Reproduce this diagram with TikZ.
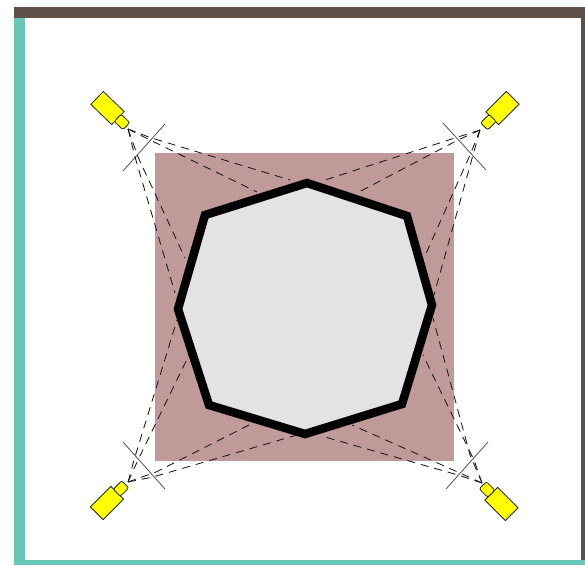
\documentclass[tikz,border=0pt]{standalone}
\usetikzlibrary{positioning}
\definecolor{wallbrown}{HTML}{61504A}
\definecolor{wallteal}{HTML}{66C6B8}
\definecolor{covered}{HTML}{C09A98}
\definecolor{obstacle}{HTML}{E3E3E3}
\definecolor{camyellow}{HTML}{FFFF00}

\begin{document}
\begin{tikzpicture}[
  x=1pt,
  y=-1pt,
  wall/.style={draw=none},
  camera/.style={
    draw=black!85,
    line width=0.8pt,
    fill=camyellow,
    inner sep=0pt,
    minimum width=29pt,
    minimum height=18pt
  },
  lens/.style={
    draw=black!85,
    line width=0.8pt,
    fill=camyellow,
    rounded corners=2pt,
    inner sep=0pt,
    minimum width=12pt,
    minimum height=10pt
  },
  ray/.style={draw=black!90, line width=0.85pt, dash pattern=on 8pt off 6pt},
  tick/.style={draw=black!65, line width=0.85pt},
  hull/.style={draw=black, line width=8.5pt, fill=obstacle, miter limit=10}
]
\useasboundingbox (0,0) rectangle (585,565);

% Walls of the room.
\fill[wall, wallbrown] (14,7) rectangle (585,18);
\fill[wall, wallbrown] (581,18) rectangle (585,560);
\fill[wall, wallteal] (14,18) rectangle (25,565);
\fill[wall, wallteal] (25,560) rectangle (585,565);

% Covered area.
\fill[covered] (155,153) rectangle (454,461);

% Cameras in the four corners.
\node[camera, rotate=-44] (camNW) at (107.5,108) {};
\node[lens, rotate=-44] (lensNW) at (122,122) {};
\node[camera, rotate=45] (camNE) at (502.5,108) {};
\node[lens, rotate=45] (lensNE) at (488.4,122.2) {};
\node[camera, rotate=45] (camSW) at (107,503) {};
\node[lens, rotate=45] (lensSW) at (121,488.5) {};
\node[camera, rotate=-45] (camSE) at (501.5,504) {};
\node[lens, rotate=-45] (lensSE) at (487,489.5) {};

\coordinate (apexNW) at (128,129);
\coordinate (apexNE) at (480,130);
\coordinate (apexSW) at (128,482);
\coordinate (apexSE) at (482,483);

% Crossing lines in front of each camera.
\coordinate (tickNWa) at (123,171);
\coordinate (tickNWb) at (165,124);
\coordinate (tickNEa) at (443,123);
\coordinate (tickNEb) at (486,170);
\coordinate (tickSWa) at (123,442);
\coordinate (tickSWb) at (165,489);
\coordinate (tickSEa) at (488,442);
\coordinate (tickSEb) at (446,489);
\draw[tick] (tickNWa) -- (tickNWb);
\draw[tick] (tickNEa) -- (tickNEb);
\draw[tick] (tickSWa) -- (tickSWb);
\draw[tick] (tickSEa) -- (tickSEb);

% Sight lines, bent where they cross.
\draw[ray] (apexNW) -- (150,137.5) -- (290,180);
\draw[ray] (apexNW) -- (150,140) -- (257,192);
\draw[ray] (apexNW) -- (138,157) -- (185,258);
\draw[ray] (apexNW) -- (135,157) -- (175,293);

\draw[ray] (apexNE) -- (458,137) -- (325,180);
\draw[ray] (apexNE) -- (458,140) -- (357,193);
\draw[ray] (apexNE) -- (470,155) -- (424,258);
\draw[ray] (apexNE) -- (473,155) -- (434,295);

\draw[ray] (apexSW) -- (134,460) -- (177,320);
\draw[ray] (apexSW) -- (138,460) -- (189,355);
\draw[ray] (apexSW) -- (156,472) -- (255,422);
\draw[ray] (apexSW) -- (153,477) -- (297,435);

\draw[ray] (apexSE) -- (470,455) -- (433,318);
\draw[ray] (apexSE) -- (474,460) -- (423,355);
\draw[ray] (apexSE) -- (460,473) -- (352,425);
\draw[ray] (apexSE) -- (458,475) -- (325,437);

% Obstacle in the middle.
\draw[hull] (307,183) -- (407,216) -- (432,305) -- (402,404) -- (305,434)
  -- (209,405) -- (178,309) -- (205,215) -- cycle;

\end{tikzpicture}
\end{document}
